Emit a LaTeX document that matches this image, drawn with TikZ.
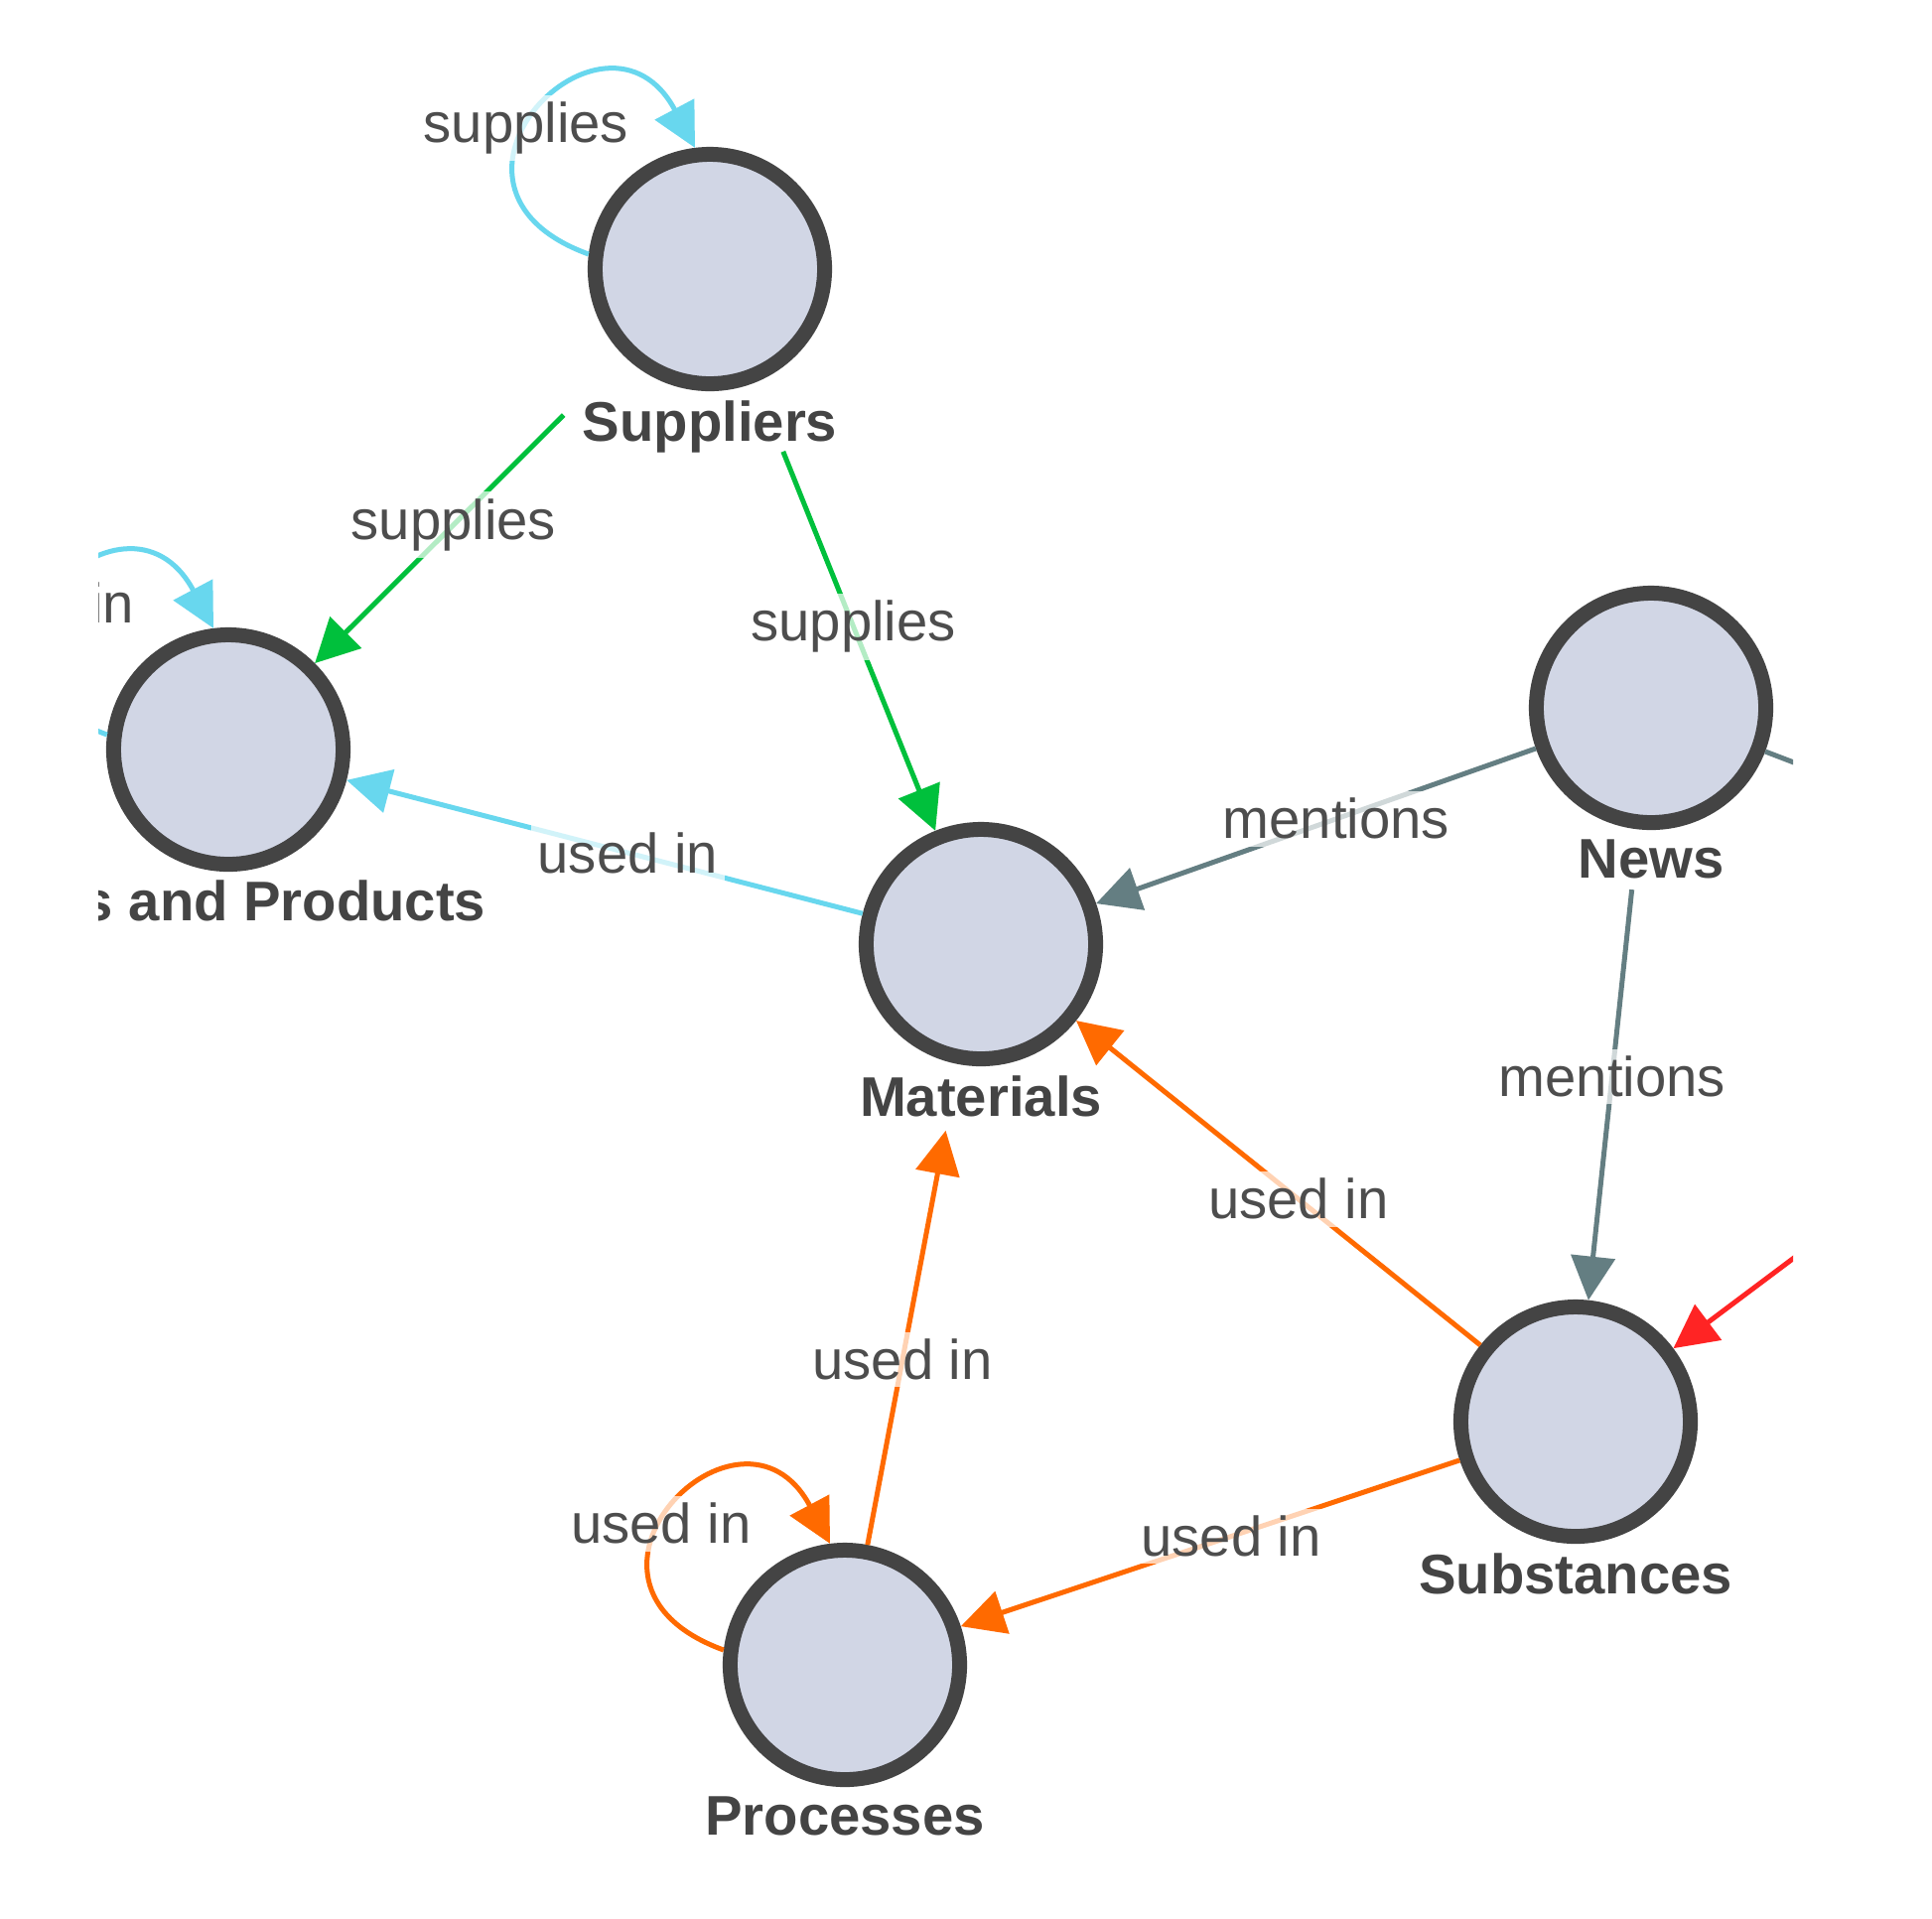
\documentclass[tikz,border=0pt]{standalone}
\usepackage{fontspec}
\setmainfont{Liberation Sans}
\usetikzlibrary{arrows.meta,positioning}
\definecolor{nodefill}{RGB}{209,214,229}
\definecolor{nodeline}{RGB}{68,68,68}
\definecolor{txtgray}{RGB}{77,77,77}
\definecolor{cyanedge}{RGB}{104,215,238}
\definecolor{greenedge}{RGB}{0,192,60}
\definecolor{grayedge}{RGB}{100,126,130}
\definecolor{orangeedge}{RGB}{255,106,0}
\definecolor{rededge}{RGB}{255,36,36}

\begin{document}
\begin{tikzpicture}[x=0.01cm,y=-0.01cm,
    main node/.style={circle,draw=nodeline,fill=nodefill,line width=0.15cm,minimum size=2.31cm,inner sep=0pt},
    name label/.style={font=\fontsize{16}{19}\selectfont\bfseries,text=nodeline,inner sep=0pt},
    edge label/.style={font=\fontsize{16}{19}\selectfont,text=txtgray,fill=white,fill opacity=0.7,text opacity=1,inner sep=2pt},
    link/.style={line width=0.05cm,-{Triangle[length=0.44cm,width=0.44cm]}},
    selfloop/.style={out=160,in=118,out distance=2cm,in distance=1.91cm}]
    \fill[white] (0,0) rectangle (1946,1932);
    \useasboundingbox (0,0) rectangle (1946,1932);

    \begin{scope}
        \clip (99,0) rectangle (1806,1932);

        \node[main node] at (715,271) (sup) {};
        \node[main node] at (230,755) (parts) {};
        \node[main node] at (988,951) (mat) {};
        \node[main node] at (1663,713) (news) {};
        \node[main node] at (1587,1432) (subs) {};
        \node[main node] at (851,1677) (proc) {};
        \coordinate (newsout) at (2037,856);
        \coordinate (redsrc) at (1907,1192);

        \node[name label,below=0.09cm of sup] (suplbl) {Suppliers};
        \node[name label,anchor=base east] at (490,927) (partslbl) {s and Products};
        \node[name label,below=0.09cm of mat] (matlbl) {Materials};
        \node[name label,below=0.09cm of news] (newslbl) {News};
        \node[name label,below=0.09cm of subs] (subslbl) {Substances};
        \node[name label,below=0.09cm of proc] (proclbl) {Processes};

        % supplies
        \path[link,greenedge]
            (sup) edge[shorten <=0.85cm] node[edge label,pos=0.55] {supplies} (parts)
            (sup) edge[shorten <=0.75cm] node[edge label,pos=0.545] {supplies} (mat);
        \path[link,cyanedge]
            (mat) edge node[edge label,pos=0.455] {used in} (parts)
            (sup.173) edge[selfloop] node[edge label,pos=0.44] {supplies} (sup.97)
            (parts.173) edge[selfloop] (parts.97);
        \node[edge label,anchor=base east,inner sep=0pt] at (136,627) (partsloop) {in};

        % mentions
        \path[link,grayedge]
            (news) edge node[edge label,pos=0.454] {mentions} (mat)
            (news) edge[shorten <=0.61cm] node[edge label,pos=0.525] {mentions} (subs);
        \draw[line width=0.05cm,grayedge] (news) -- (newsout);

        % used in
        \path[link,orangeedge]
            (subs) edge node[edge label,pos=0.45] {used in} (mat)
            (proc) edge[shorten >=0.68cm] node[edge label,pos=0.386] {used in} (mat)
            (subs) edge node[edge label,pos=0.458] {used in} (proc)
            (proc.173) edge[selfloop] node[edge label,pos=0.44] {used in} (proc.97);
        \draw[link,rededge] (redsrc) -- (subs);
    \end{scope}
\end{tikzpicture}
\end{document}
